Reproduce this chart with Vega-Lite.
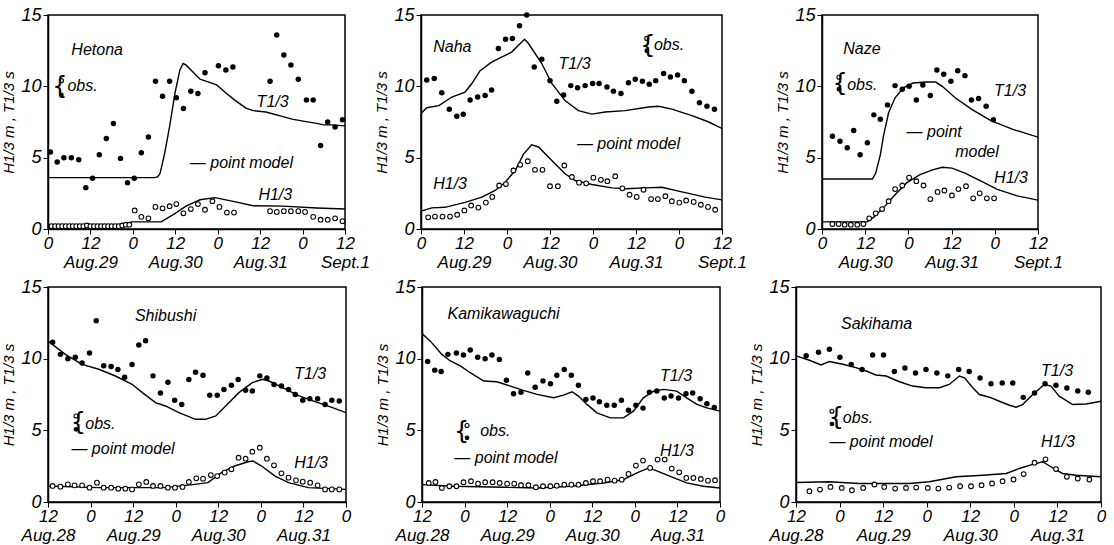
{
"$schema":"https://vega.github.io/schema/vega-lite/v6.json",
"autosize":{"type":"pad"},
"padding":{"left":1,"top":5,"right":2,"bottom":2},
"background":"white",
"config":{
 "view":{"stroke":"black","strokeWidth":1.5},
 "font":"Liberation Sans",
 "axis":{"grid":false,"domainColor":"black","domainWidth":1.5,"tickColor":"black","tickSize":5,"labelColor":"black","titleColor":"black","labelFont":"Liberation Sans","labelFontStyle":"italic","labelFontSize":18,"titleFont":"Liberation Sans","titleFontStyle":"italic","titleFontWeight":"normal","titleFontSize":15,"labelPadding":2,"titlePadding":4},
 "axisX":{"labelFlush":false,"labelOverlap":false,"labelLineHeight":19,"labelFontSize":17,"labelPadding":1},
 "text":{"font":"Liberation Sans","fontStyle":"italic","fontSize":16,"align":"left","baseline":"middle","color":"black"}
},
"datasets":{
"d":[
{"s":"Hetona","k":"To","x":24.7,"y":5.4},{"s":"Hetona","k":"To","x":26.6,"y":4.7},{"s":"Hetona","k":"To","x":28.5,"y":5.0},{"s":"Hetona","k":"To","x":30.6,"y":5.0},{"s":"Hetona","k":"To","x":32.7,"y":4.85},{"s":"Hetona","k":"To","x":34.7,"y":2.9},{"s":"Hetona","k":"To","x":36.6,"y":3.55},{"s":"Hetona","k":"To","x":38.5,"y":5.2},{"s":"Hetona","k":"To","x":40.5,"y":6.35},{"s":"Hetona","k":"To","x":42.5,"y":7.4},{"s":"Hetona","k":"To","x":44.5,"y":4.95},{"s":"Hetona","k":"To","x":46.5,"y":3.25},{"s":"Hetona","k":"To","x":48.4,"y":3.55},{"s":"Hetona","k":"To","x":50.4,"y":5.35},{"s":"Hetona","k":"To","x":52.4,"y":6.45},{"s":"Hetona","k":"To","x":54.4,"y":10.35},{"s":"Hetona","k":"To","x":56.4,"y":9.3},{"s":"Hetona","k":"To","x":58.4,"y":10.35},{"s":"Hetona","k":"To","x":60.3,"y":9.2},{"s":"Hetona","k":"To","x":62.3,"y":8.45},{"s":"Hetona","k":"To","x":64.4,"y":9.65},{"s":"Hetona","k":"To","x":66.4,"y":9.5},{"s":"Hetona","k":"To","x":68.4,"y":10.95},{"s":"Hetona","k":"To","x":72.2,"y":11.45},{"s":"Hetona","k":"To","x":74.3,"y":11.15},{"s":"Hetona","k":"To","x":76.3,"y":11.35},{"s":"Hetona","k":"To","x":86.8,"y":10.35},{"s":"Hetona","k":"To","x":88.7,"y":13.6},{"s":"Hetona","k":"To","x":90.7,"y":12.2},{"s":"Hetona","k":"To","x":92.7,"y":11.5},{"s":"Hetona","k":"To","x":94.8,"y":10.5},{"s":"Hetona","k":"To","x":97.1,"y":9.05},{"s":"Hetona","k":"To","x":99,"y":9.05},{"s":"Hetona","k":"To","x":101.1,"y":5.85},{"s":"Hetona","k":"To","x":103.1,"y":7.5},{"s":"Hetona","k":"To","x":105.2,"y":7.15},{"s":"Hetona","k":"To","x":107.3,"y":7.65},
{"s":"Hetona","k":"Ho","x":25,"y":0.2},{"s":"Hetona","k":"Ho","x":26,"y":0.2},{"s":"Hetona","k":"Ho","x":27,"y":0.2},{"s":"Hetona","k":"Ho","x":28,"y":0.2},{"s":"Hetona","k":"Ho","x":29,"y":0.2},{"s":"Hetona","k":"Ho","x":30,"y":0.2},{"s":"Hetona","k":"Ho","x":31,"y":0.2},{"s":"Hetona","k":"Ho","x":32,"y":0.2},{"s":"Hetona","k":"Ho","x":33,"y":0.2},{"s":"Hetona","k":"Ho","x":34,"y":0.2},{"s":"Hetona","k":"Ho","x":35,"y":0.25},{"s":"Hetona","k":"Ho","x":36,"y":0.2},{"s":"Hetona","k":"Ho","x":37,"y":0.2},{"s":"Hetona","k":"Ho","x":38,"y":0.2},{"s":"Hetona","k":"Ho","x":39,"y":0.2},{"s":"Hetona","k":"Ho","x":40,"y":0.2},{"s":"Hetona","k":"Ho","x":41,"y":0.2},{"s":"Hetona","k":"Ho","x":42,"y":0.2},{"s":"Hetona","k":"Ho","x":43,"y":0.2},{"s":"Hetona","k":"Ho","x":44,"y":0.2},{"s":"Hetona","k":"Ho","x":45,"y":0.25},{"s":"Hetona","k":"Ho","x":46,"y":0.3},{"s":"Hetona","k":"Ho","x":47,"y":0.3},
{"s":"Hetona","k":"Ho","x":48.5,"y":1.3},{"s":"Hetona","k":"Ho","x":50.4,"y":0.85},{"s":"Hetona","k":"Ho","x":52.4,"y":0.75},{"s":"Hetona","k":"Ho","x":54.4,"y":1.55},{"s":"Hetona","k":"Ho","x":56.4,"y":1.45},{"s":"Hetona","k":"Ho","x":58.4,"y":1.6},{"s":"Hetona","k":"Ho","x":60.3,"y":1.75},{"s":"Hetona","k":"Ho","x":62.3,"y":1.1},{"s":"Hetona","k":"Ho","x":64.4,"y":1.4},{"s":"Hetona","k":"Ho","x":66.4,"y":1.75},{"s":"Hetona","k":"Ho","x":68.4,"y":1.35},{"s":"Hetona","k":"Ho","x":70.5,"y":1.95},{"s":"Hetona","k":"Ho","x":72.5,"y":1.55},{"s":"Hetona","k":"Ho","x":74.6,"y":1.15},{"s":"Hetona","k":"Ho","x":76.6,"y":1.15},{"s":"Hetona","k":"Ho","x":86.8,"y":1.25},{"s":"Hetona","k":"Ho","x":88.7,"y":1.2},{"s":"Hetona","k":"Ho","x":90.7,"y":1.25},{"s":"Hetona","k":"Ho","x":92.7,"y":1.25},{"s":"Hetona","k":"Ho","x":94.8,"y":1.25},{"s":"Hetona","k":"Ho","x":96.7,"y":1.2},{"s":"Hetona","k":"Ho","x":99,"y":0.85},{"s":"Hetona","k":"Ho","x":101.1,"y":0.65},{"s":"Hetona","k":"Ho","x":103.1,"y":0.65},{"s":"Hetona","k":"Ho","x":105.2,"y":0.75},{"s":"Hetona","k":"Ho","x":107.3,"y":0.55},
{"s":"Hetona","k":"Tm","x":24,"y":3.6},{"s":"Hetona","k":"Tm","x":54,"y":3.6},{"s":"Hetona","k":"Tm","x":55,"y":3.65},{"s":"Hetona","k":"Tm","x":55.7,"y":3.9},{"s":"Hetona","k":"Tm","x":57,"y":5.3},{"s":"Hetona","k":"Tm","x":58.4,"y":7.2},{"s":"Hetona","k":"Tm","x":59.9,"y":9.5},{"s":"Hetona","k":"Tm","x":61.3,"y":11.15},{"s":"Hetona","k":"Tm","x":62.2,"y":11.6},{"s":"Hetona","k":"Tm","x":63,"y":11.5},{"s":"Hetona","k":"Tm","x":65,"y":11.0},{"s":"Hetona","k":"Tm","x":67,"y":10.5},{"s":"Hetona","k":"Tm","x":71.7,"y":10.1},{"s":"Hetona","k":"Tm","x":74,"y":9.6},{"s":"Hetona","k":"Tm","x":77,"y":9.0},{"s":"Hetona","k":"Tm","x":80,"y":8.47},{"s":"Hetona","k":"Tm","x":82,"y":8.3},{"s":"Hetona","k":"Tm","x":85.6,"y":8.2},{"s":"Hetona","k":"Tm","x":90.5,"y":7.88},{"s":"Hetona","k":"Tm","x":93,"y":7.7},{"s":"Hetona","k":"Tm","x":97,"y":7.53},{"s":"Hetona","k":"Tm","x":100,"y":7.4},{"s":"Hetona","k":"Tm","x":102,"y":7.3},{"s":"Hetona","k":"Tm","x":104,"y":7.3},{"s":"Hetona","k":"Tm","x":108,"y":7.23},
{"s":"Hetona","k":"Hm","x":24,"y":0.25},{"s":"Hetona","k":"Hm","x":47,"y":0.25},{"s":"Hetona","k":"Hm","x":47.5,"y":0.5},{"s":"Hetona","k":"Hm","x":56,"y":0.5},{"s":"Hetona","k":"Hm","x":60,"y":1.1},{"s":"Hetona","k":"Hm","x":63,"y":1.6},{"s":"Hetona","k":"Hm","x":67,"y":2.05},{"s":"Hetona","k":"Hm","x":71.2,"y":2.2},{"s":"Hetona","k":"Hm","x":76.4,"y":1.94},{"s":"Hetona","k":"Hm","x":82,"y":1.63},{"s":"Hetona","k":"Hm","x":90.5,"y":1.6},{"s":"Hetona","k":"Hm","x":100,"y":1.47},{"s":"Hetona","k":"Hm","x":108,"y":1.4},
{"s":"Naha","k":"To","x":25.6,"y":10.45},{"s":"Naha","k":"To","x":27.7,"y":10.55},{"s":"Naha","k":"To","x":29.8,"y":9.55},{"s":"Naha","k":"To","x":31.9,"y":8.4},{"s":"Naha","k":"To","x":34,"y":7.9},{"s":"Naha","k":"To","x":35.8,"y":8.05},{"s":"Naha","k":"To","x":37.7,"y":9.05},{"s":"Naha","k":"To","x":39.8,"y":9.25},{"s":"Naha","k":"To","x":41.9,"y":9.35},{"s":"Naha","k":"To","x":43.7,"y":9.75},{"s":"Naha","k":"To","x":45.6,"y":12.65},{"s":"Naha","k":"To","x":47.6,"y":13.3},{"s":"Naha","k":"To","x":49.5,"y":13.35},{"s":"Naha","k":"To","x":51.5,"y":14.25},{"s":"Naha","k":"To","x":53.5,"y":15.0},{"s":"Naha","k":"To","x":55.6,"y":11.35},{"s":"Naha","k":"To","x":57.7,"y":11.9},{"s":"Naha","k":"To","x":60,"y":10.4},{"s":"Naha","k":"To","x":61.9,"y":8.95},{"s":"Naha","k":"To","x":63.8,"y":9.4},{"s":"Naha","k":"To","x":65.8,"y":10.05},{"s":"Naha","k":"To","x":67.7,"y":9.9},{"s":"Naha","k":"To","x":69.8,"y":10.05},{"s":"Naha","k":"To","x":71.9,"y":10.2},{"s":"Naha","k":"To","x":73.7,"y":10.2},{"s":"Naha","k":"To","x":75.9,"y":9.95},{"s":"Naha","k":"To","x":77.7,"y":9.65},{"s":"Naha","k":"To","x":79.8,"y":9.5},{"s":"Naha","k":"To","x":81.9,"y":10.25},{"s":"Naha","k":"To","x":83.8,"y":10.5},{"s":"Naha","k":"To","x":85.8,"y":10.35},{"s":"Naha","k":"To","x":87.7,"y":10.15},{"s":"Naha","k":"To","x":89.5,"y":10.4},{"s":"Naha","k":"To","x":91.7,"y":10.9},{"s":"Naha","k":"To","x":93.6,"y":10.65},{"s":"Naha","k":"To","x":95.6,"y":10.8},{"s":"Naha","k":"To","x":97.5,"y":10.4},{"s":"Naha","k":"To","x":99.6,"y":9.65},{"s":"Naha","k":"To","x":101.7,"y":8.85},{"s":"Naha","k":"To","x":103.8,"y":8.6},{"s":"Naha","k":"To","x":105.9,"y":8.4},
{"s":"Naha","k":"Ho","x":26,"y":0.82},{"s":"Naha","k":"Ho","x":27.9,"y":0.87},{"s":"Naha","k":"Ho","x":30,"y":0.87},{"s":"Naha","k":"Ho","x":32.1,"y":0.87},{"s":"Naha","k":"Ho","x":34.1,"y":1.0},{"s":"Naha","k":"Ho","x":36.1,"y":1.3},{"s":"Naha","k":"Ho","x":38,"y":1.65},{"s":"Naha","k":"Ho","x":40,"y":1.5},{"s":"Naha","k":"Ho","x":42.1,"y":1.85},{"s":"Naha","k":"Ho","x":43.9,"y":2.25},{"s":"Naha","k":"Ho","x":45.8,"y":3.05},{"s":"Naha","k":"Ho","x":47.7,"y":3.15},{"s":"Naha","k":"Ho","x":49.8,"y":4.1},{"s":"Naha","k":"Ho","x":51.7,"y":4.5},{"s":"Naha","k":"Ho","x":53.8,"y":4.75},{"s":"Naha","k":"Ho","x":55.8,"y":4.15},{"s":"Naha","k":"Ho","x":57.9,"y":4.15},{"s":"Naha","k":"Ho","x":60,"y":3.0},{"s":"Naha","k":"Ho","x":62.2,"y":3.0},{"s":"Naha","k":"Ho","x":64,"y":4.45},{"s":"Naha","k":"Ho","x":66.1,"y":3.65},{"s":"Naha","k":"Ho","x":68.1,"y":3.25},{"s":"Naha","k":"Ho","x":70.1,"y":3.2},{"s":"Naha","k":"Ho","x":72.1,"y":3.6},{"s":"Naha","k":"Ho","x":74.2,"y":3.45},{"s":"Naha","k":"Ho","x":76,"y":3.35},{"s":"Naha","k":"Ho","x":78.2,"y":3.7},{"s":"Naha","k":"Ho","x":80.2,"y":2.85},{"s":"Naha","k":"Ho","x":82.2,"y":2.4},{"s":"Naha","k":"Ho","x":84.2,"y":2.25},{"s":"Naha","k":"Ho","x":86.1,"y":2.75},{"s":"Naha","k":"Ho","x":88.2,"y":2.1},{"s":"Naha","k":"Ho","x":90.1,"y":2.1},{"s":"Naha","k":"Ho","x":92.2,"y":2.3},{"s":"Naha","k":"Ho","x":94,"y":1.95},{"s":"Naha","k":"Ho","x":96.1,"y":1.85},{"s":"Naha","k":"Ho","x":98,"y":2.0},{"s":"Naha","k":"Ho","x":100.1,"y":1.9},{"s":"Naha","k":"Ho","x":102.1,"y":1.7},{"s":"Naha","k":"Ho","x":104.1,"y":1.55},{"s":"Naha","k":"Ho","x":106.1,"y":1.35},
{"s":"Naha","k":"Tm","x":24,"y":8.1},{"s":"Naha","k":"Tm","x":25.6,"y":8.5},{"s":"Naha","k":"Tm","x":29,"y":8.65},{"s":"Naha","k":"Tm","x":32.6,"y":9.25},{"s":"Naha","k":"Tm","x":36.3,"y":9.6},{"s":"Naha","k":"Tm","x":38.2,"y":10.2},{"s":"Naha","k":"Tm","x":40.5,"y":11.1},{"s":"Naha","k":"Tm","x":43.7,"y":11.7},{"s":"Naha","k":"Tm","x":46.5,"y":12.05},{"s":"Naha","k":"Tm","x":49.3,"y":12.4},{"s":"Naha","k":"Tm","x":51.7,"y":13.0},{"s":"Naha","k":"Tm","x":52.9,"y":13.3},{"s":"Naha","k":"Tm","x":54,"y":13.0},{"s":"Naha","k":"Tm","x":57.7,"y":11.6},{"s":"Naha","k":"Tm","x":60.5,"y":10.2},{"s":"Naha","k":"Tm","x":64.2,"y":9.0},{"s":"Naha","k":"Tm","x":67.9,"y":8.3},{"s":"Naha","k":"Tm","x":71.7,"y":8.05},{"s":"Naha","k":"Tm","x":75.4,"y":8.2},{"s":"Naha","k":"Tm","x":81,"y":8.3},{"s":"Naha","k":"Tm","x":87.5,"y":8.55},{"s":"Naha","k":"Tm","x":90.3,"y":8.6},{"s":"Naha","k":"Tm","x":94,"y":8.4},{"s":"Naha","k":"Tm","x":99.6,"y":7.95},{"s":"Naha","k":"Tm","x":104.3,"y":7.5},{"s":"Naha","k":"Tm","x":108,"y":7.05},
{"s":"Naha","k":"Hm","x":24,"y":1.25},{"s":"Naha","k":"Hm","x":27,"y":1.48},{"s":"Naha","k":"Hm","x":30.7,"y":1.52},{"s":"Naha","k":"Hm","x":36.3,"y":1.87},{"s":"Naha","k":"Hm","x":41,"y":2.23},{"s":"Naha","k":"Hm","x":44.7,"y":2.7},{"s":"Naha","k":"Hm","x":47.5,"y":3.28},{"s":"Naha","k":"Hm","x":50.3,"y":4.1},{"s":"Naha","k":"Hm","x":52.6,"y":5.25},{"s":"Naha","k":"Hm","x":54.9,"y":5.9},{"s":"Naha","k":"Hm","x":56.8,"y":5.75},{"s":"Naha","k":"Hm","x":60.5,"y":4.8},{"s":"Naha","k":"Hm","x":64.2,"y":3.87},{"s":"Naha","k":"Hm","x":67,"y":3.4},{"s":"Naha","k":"Hm","x":71.7,"y":3.12},{"s":"Naha","k":"Hm","x":77.3,"y":2.88},{"s":"Naha","k":"Hm","x":81,"y":2.82},{"s":"Naha","k":"Hm","x":86.6,"y":2.88},{"s":"Naha","k":"Hm","x":91.2,"y":2.93},{"s":"Naha","k":"Hm","x":96.8,"y":2.6},{"s":"Naha","k":"Hm","x":103.3,"y":2.23},{"s":"Naha","k":"Hm","x":108,"y":2.04},
{"s":"Naze","k":"To","x":50.9,"y":6.5},{"s":"Naze","k":"To","x":53,"y":6.15},{"s":"Naze","k":"To","x":55,"y":5.7},{"s":"Naze","k":"To","x":56.8,"y":6.9},{"s":"Naze","k":"To","x":58.6,"y":5.2},{"s":"Naze","k":"To","x":60.6,"y":6.05},{"s":"Naze","k":"To","x":62.4,"y":8.0},{"s":"Naze","k":"To","x":64.2,"y":7.7},{"s":"Naze","k":"To","x":66.2,"y":8.7},{"s":"Naze","k":"To","x":68.3,"y":10.05},{"s":"Naze","k":"To","x":70.3,"y":9.8},{"s":"Naze","k":"To","x":72.2,"y":10.0},{"s":"Naze","k":"To","x":74.2,"y":9.05},{"s":"Naze","k":"To","x":76,"y":10.1},{"s":"Naze","k":"To","x":78.1,"y":9.35},{"s":"Naze","k":"To","x":79.9,"y":11.15},{"s":"Naze","k":"To","x":81.8,"y":10.85},{"s":"Naze","k":"To","x":83.8,"y":10.35},{"s":"Naze","k":"To","x":85.7,"y":11.1},{"s":"Naze","k":"To","x":87.7,"y":10.75},{"s":"Naze","k":"To","x":89.5,"y":9.05},{"s":"Naze","k":"To","x":91.5,"y":9.15},{"s":"Naze","k":"To","x":93.6,"y":8.6},{"s":"Naze","k":"To","x":95.6,"y":7.65},
{"s":"Naze","k":"Ho","x":50.9,"y":0.35},{"s":"Naze","k":"Ho","x":52.6,"y":0.35},{"s":"Naze","k":"Ho","x":54.3,"y":0.3},{"s":"Naze","k":"Ho","x":56,"y":0.3},{"s":"Naze","k":"Ho","x":57.8,"y":0.3},{"s":"Naze","k":"Ho","x":59.5,"y":0.35},{"s":"Naze","k":"Ho","x":61.1,"y":0.75},{"s":"Naze","k":"Ho","x":62.9,"y":1.1},{"s":"Naze","k":"Ho","x":64.7,"y":1.4},{"s":"Naze","k":"Ho","x":66.5,"y":1.95},{"s":"Naze","k":"Ho","x":68.3,"y":2.8},{"s":"Naze","k":"Ho","x":70.3,"y":3.05},{"s":"Naze","k":"Ho","x":72.2,"y":3.6},{"s":"Naze","k":"Ho","x":74.2,"y":3.35},{"s":"Naze","k":"Ho","x":76.2,"y":3.05},{"s":"Naze","k":"Ho","x":78.1,"y":2.1},{"s":"Naze","k":"Ho","x":80.1,"y":2.6},{"s":"Naze","k":"Ho","x":82,"y":2.7},{"s":"Naze","k":"Ho","x":84.1,"y":2.35},{"s":"Naze","k":"Ho","x":85.9,"y":2.8},{"s":"Naze","k":"Ho","x":88,"y":3.0},{"s":"Naze","k":"Ho","x":90,"y":2.15},{"s":"Naze","k":"Ho","x":91.8,"y":2.5},{"s":"Naze","k":"Ho","x":93.8,"y":2.15},{"s":"Naze","k":"Ho","x":95.8,"y":2.15},
{"s":"Naze","k":"Tm","x":48,"y":3.5},{"s":"Naze","k":"Tm","x":62,"y":3.5},{"s":"Naze","k":"Tm","x":62.9,"y":3.9},{"s":"Naze","k":"Tm","x":64.2,"y":5.2},{"s":"Naze","k":"Tm","x":65.1,"y":6.55},{"s":"Naze","k":"Tm","x":66.5,"y":8.15},{"s":"Naze","k":"Tm","x":68.3,"y":9.2},{"s":"Naze","k":"Tm","x":70.6,"y":9.9},{"s":"Naze","k":"Tm","x":73.3,"y":10.23},{"s":"Naze","k":"Tm","x":76.9,"y":10.3},{"s":"Naze","k":"Tm","x":79.6,"y":10.3},{"s":"Naze","k":"Tm","x":81.4,"y":10.0},{"s":"Naze","k":"Tm","x":85,"y":9.2},{"s":"Naze","k":"Tm","x":89.5,"y":8.4},{"s":"Naze","k":"Tm","x":94.9,"y":7.6},{"s":"Naze","k":"Tm","x":101.2,"y":6.97},{"s":"Naze","k":"Tm","x":108,"y":6.44},
{"s":"Naze","k":"Hm","x":48,"y":0.5},{"s":"Naze","k":"Hm","x":60.6,"y":0.5},{"s":"Naze","k":"Hm","x":62.4,"y":0.83},{"s":"Naze","k":"Hm","x":65.1,"y":1.5},{"s":"Naze","k":"Hm","x":67.9,"y":2.3},{"s":"Naze","k":"Hm","x":71.5,"y":3.23},{"s":"Naze","k":"Hm","x":75.1,"y":3.8},{"s":"Naze","k":"Hm","x":78.7,"y":4.15},{"s":"Naze","k":"Hm","x":81.4,"y":4.33},{"s":"Naze","k":"Hm","x":84.1,"y":4.27},{"s":"Naze","k":"Hm","x":87.7,"y":3.92},{"s":"Naze","k":"Hm","x":92.2,"y":3.35},{"s":"Naze","k":"Hm","x":96.7,"y":2.78},{"s":"Naze","k":"Hm","x":102.2,"y":2.32},{"s":"Naze","k":"Hm","x":108,"y":2.02},
{"s":"Shibushi","k":"To","x":13.3,"y":11.15},{"s":"Shibushi","k":"To","x":15.5,"y":10.3},{"s":"Shibushi","k":"To","x":17.6,"y":10.0},{"s":"Shibushi","k":"To","x":19.7,"y":10.1},{"s":"Shibushi","k":"To","x":21.6,"y":9.7},{"s":"Shibushi","k":"To","x":23.7,"y":10.4},{"s":"Shibushi","k":"To","x":25.6,"y":12.65},{"s":"Shibushi","k":"To","x":27.7,"y":9.5},{"s":"Shibushi","k":"To","x":29.8,"y":9.45},{"s":"Shibushi","k":"To","x":31.7,"y":9.25},{"s":"Shibushi","k":"To","x":33.6,"y":8.7},{"s":"Shibushi","k":"To","x":35.7,"y":9.6},{"s":"Shibushi","k":"To","x":37.6,"y":10.95},{"s":"Shibushi","k":"To","x":39.5,"y":11.25},{"s":"Shibushi","k":"To","x":41.6,"y":8.8},{"s":"Shibushi","k":"To","x":43.7,"y":7.6},{"s":"Shibushi","k":"To","x":45.8,"y":8.35},{"s":"Shibushi","k":"To","x":47.7,"y":7.1},{"s":"Shibushi","k":"To","x":49.7,"y":6.8},{"s":"Shibushi","k":"To","x":51.7,"y":8.55},{"s":"Shibushi","k":"To","x":53.6,"y":9.05},{"s":"Shibushi","k":"To","x":55.7,"y":8.85},{"s":"Shibushi","k":"To","x":57.6,"y":7.45},{"s":"Shibushi","k":"To","x":59.7,"y":7.45},{"s":"Shibushi","k":"To","x":61.6,"y":7.85},{"s":"Shibushi","k":"To","x":63.7,"y":8.15},{"s":"Shibushi","k":"To","x":65.6,"y":8.55},{"s":"Shibushi","k":"To","x":67.7,"y":7.8},{"s":"Shibushi","k":"To","x":69.6,"y":7.75},{"s":"Shibushi","k":"To","x":71.7,"y":8.8},{"s":"Shibushi","k":"To","x":73.7,"y":8.65},{"s":"Shibushi","k":"To","x":75.7,"y":8.2},{"s":"Shibushi","k":"To","x":77.8,"y":8.1},{"s":"Shibushi","k":"To","x":79.8,"y":7.85},{"s":"Shibushi","k":"To","x":81.7,"y":7.5},{"s":"Shibushi","k":"To","x":83.8,"y":7.1},{"s":"Shibushi","k":"To","x":85.8,"y":7.2},{"s":"Shibushi","k":"To","x":88,"y":7.2},{"s":"Shibushi","k":"To","x":90.1,"y":6.8},{"s":"Shibushi","k":"To","x":92,"y":7.1},{"s":"Shibushi","k":"To","x":94.1,"y":7.05},
{"s":"Shibushi","k":"Ho","x":13.3,"y":1.12},{"s":"Shibushi","k":"Ho","x":15.5,"y":1.07},{"s":"Shibushi","k":"Ho","x":17.6,"y":1.23},{"s":"Shibushi","k":"Ho","x":19.5,"y":1.16},{"s":"Shibushi","k":"Ho","x":21.6,"y":1.16},{"s":"Shibushi","k":"Ho","x":23.7,"y":1.0},{"s":"Shibushi","k":"Ho","x":25.8,"y":1.35},{"s":"Shibushi","k":"Ho","x":27.7,"y":1.0},{"s":"Shibushi","k":"Ho","x":29.8,"y":1.0},{"s":"Shibushi","k":"Ho","x":31.8,"y":0.93},{"s":"Shibushi","k":"Ho","x":33.8,"y":0.93},{"s":"Shibushi","k":"Ho","x":35.7,"y":0.88},{"s":"Shibushi","k":"Ho","x":37.6,"y":1.23},{"s":"Shibushi","k":"Ho","x":39.7,"y":1.4},{"s":"Shibushi","k":"Ho","x":41.6,"y":1.12},{"s":"Shibushi","k":"Ho","x":43.7,"y":1.12},{"s":"Shibushi","k":"Ho","x":45.8,"y":1.0},{"s":"Shibushi","k":"Ho","x":47.8,"y":1.0},{"s":"Shibushi","k":"Ho","x":49.9,"y":1.05},{"s":"Shibushi","k":"Ho","x":51.7,"y":1.4},{"s":"Shibushi","k":"Ho","x":53.8,"y":1.65},{"s":"Shibushi","k":"Ho","x":55.7,"y":1.63},{"s":"Shibushi","k":"Ho","x":57.9,"y":1.88},{"s":"Shibushi","k":"Ho","x":59.7,"y":1.81},{"s":"Shibushi","k":"Ho","x":61.8,"y":2.05},{"s":"Shibushi","k":"Ho","x":63.7,"y":2.28},{"s":"Shibushi","k":"Ho","x":65.7,"y":3.09},{"s":"Shibushi","k":"Ho","x":67.7,"y":3.02},{"s":"Shibushi","k":"Ho","x":69.6,"y":3.51},{"s":"Shibushi","k":"Ho","x":71.7,"y":3.79},{"s":"Shibushi","k":"Ho","x":73.7,"y":3.02},{"s":"Shibushi","k":"Ho","x":75.7,"y":2.56},{"s":"Shibushi","k":"Ho","x":77.8,"y":2.0},{"s":"Shibushi","k":"Ho","x":79.8,"y":1.7},{"s":"Shibushi","k":"Ho","x":81.9,"y":1.51},{"s":"Shibushi","k":"Ho","x":83.8,"y":1.42},{"s":"Shibushi","k":"Ho","x":85.9,"y":1.35},{"s":"Shibushi","k":"Ho","x":88,"y":1.16},{"s":"Shibushi","k":"Ho","x":90.1,"y":0.88},{"s":"Shibushi","k":"Ho","x":92,"y":0.88},{"s":"Shibushi","k":"Ho","x":94.1,"y":0.88},
{"s":"Shibushi","k":"Tm","x":12,"y":11.23},{"s":"Shibushi","k":"Tm","x":16.9,"y":10.3},{"s":"Shibushi","k":"Tm","x":21.6,"y":9.6},{"s":"Shibushi","k":"Tm","x":26.3,"y":9.26},{"s":"Shibushi","k":"Tm","x":31,"y":8.79},{"s":"Shibushi","k":"Tm","x":35.7,"y":8.21},{"s":"Shibushi","k":"Tm","x":38.6,"y":7.63},{"s":"Shibushi","k":"Tm","x":42.3,"y":6.93},{"s":"Shibushi","k":"Tm","x":45.1,"y":6.7},{"s":"Shibushi","k":"Tm","x":48.9,"y":6.23},{"s":"Shibushi","k":"Tm","x":53.6,"y":5.77},{"s":"Shibushi","k":"Tm","x":56.4,"y":5.77},{"s":"Shibushi","k":"Tm","x":59.3,"y":6.0},{"s":"Shibushi","k":"Tm","x":63,"y":6.93},{"s":"Shibushi","k":"Tm","x":65.8,"y":7.63},{"s":"Shibushi","k":"Tm","x":69.6,"y":8.33},{"s":"Shibushi","k":"Tm","x":72.5,"y":8.56},{"s":"Shibushi","k":"Tm","x":74.3,"y":8.44},{"s":"Shibushi","k":"Tm","x":78.1,"y":7.98},{"s":"Shibushi","k":"Tm","x":82.8,"y":7.4},{"s":"Shibushi","k":"Tm","x":87.5,"y":6.98},{"s":"Shibushi","k":"Tm","x":92.2,"y":6.58},{"s":"Shibushi","k":"Tm","x":96,"y":6.23},
{"s":"Shibushi","k":"Hm","x":12,"y":1.12},{"s":"Shibushi","k":"Hm","x":26.3,"y":1.0},{"s":"Shibushi","k":"Hm","x":35.7,"y":1.0},{"s":"Shibushi","k":"Hm","x":45.1,"y":1.0},{"s":"Shibushi","k":"Hm","x":53.4,"y":1.23},{"s":"Shibushi","k":"Hm","x":57.1,"y":1.35},{"s":"Shibushi","k":"Hm","x":60.9,"y":2.05},{"s":"Shibushi","k":"Hm","x":64.6,"y":2.51},{"s":"Shibushi","k":"Hm","x":68.4,"y":2.81},{"s":"Shibushi","k":"Hm","x":69.8,"y":2.86},{"s":"Shibushi","k":"Hm","x":72.2,"y":2.51},{"s":"Shibushi","k":"Hm","x":76,"y":1.81},{"s":"Shibushi","k":"Hm","x":79.8,"y":1.35},{"s":"Shibushi","k":"Hm","x":85.4,"y":1.0},{"s":"Shibushi","k":"Hm","x":96,"y":0.88},
{"s":"Kamikawaguchi","k":"To","x":13.6,"y":9.8},{"s":"Kamikawaguchi","k":"To","x":15.6,"y":9.2},{"s":"Kamikawaguchi","k":"To","x":17.4,"y":9.1},{"s":"Kamikawaguchi","k":"To","x":19.3,"y":10.3},{"s":"Kamikawaguchi","k":"To","x":21.7,"y":10.4},{"s":"Kamikawaguchi","k":"To","x":23.7,"y":10.25},{"s":"Kamikawaguchi","k":"To","x":25.6,"y":10.6},{"s":"Kamikawaguchi","k":"To","x":27.7,"y":10.1},{"s":"Kamikawaguchi","k":"To","x":29.8,"y":10.0},{"s":"Kamikawaguchi","k":"To","x":31.7,"y":10.25},{"s":"Kamikawaguchi","k":"To","x":33.8,"y":9.95},{"s":"Kamikawaguchi","k":"To","x":35.8,"y":8.5},{"s":"Kamikawaguchi","k":"To","x":37.8,"y":7.55},{"s":"Kamikawaguchi","k":"To","x":39.9,"y":7.65},{"s":"Kamikawaguchi","k":"To","x":41.8,"y":9.0},{"s":"Kamikawaguchi","k":"To","x":43.9,"y":8.0},{"s":"Kamikawaguchi","k":"To","x":46.1,"y":8.45},{"s":"Kamikawaguchi","k":"To","x":48.2,"y":8.25},{"s":"Kamikawaguchi","k":"To","x":50,"y":8.85},{"s":"Kamikawaguchi","k":"To","x":52.1,"y":9.25},{"s":"Kamikawaguchi","k":"To","x":54.1,"y":8.85},{"s":"Kamikawaguchi","k":"To","x":56.1,"y":8.15},{"s":"Kamikawaguchi","k":"To","x":58.2,"y":7.15},{"s":"Kamikawaguchi","k":"To","x":60.2,"y":7.25},{"s":"Kamikawaguchi","k":"To","x":62,"y":7.0},{"s":"Kamikawaguchi","k":"To","x":64.1,"y":6.75},{"s":"Kamikawaguchi","k":"To","x":66.2,"y":6.75},{"s":"Kamikawaguchi","k":"To","x":68.2,"y":7.1},{"s":"Kamikawaguchi","k":"To","x":70.2,"y":6.4},{"s":"Kamikawaguchi","k":"To","x":72.3,"y":6.75},{"s":"Kamikawaguchi","k":"To","x":74.3,"y":6.55},{"s":"Kamikawaguchi","k":"To","x":76.1,"y":7.65},{"s":"Kamikawaguchi","k":"To","x":78.2,"y":7.75},{"s":"Kamikawaguchi","k":"To","x":80.3,"y":7.25},{"s":"Kamikawaguchi","k":"To","x":82.2,"y":7.4},{"s":"Kamikawaguchi","k":"To","x":84.3,"y":7.25},{"s":"Kamikawaguchi","k":"To","x":86.4,"y":7.55},{"s":"Kamikawaguchi","k":"To","x":88.3,"y":7.6},{"s":"Kamikawaguchi","k":"To","x":90.4,"y":7.2},{"s":"Kamikawaguchi","k":"To","x":92.3,"y":6.85},{"s":"Kamikawaguchi","k":"To","x":94.4,"y":6.6},
{"s":"Kamikawaguchi","k":"Ho","x":13.9,"y":1.33},{"s":"Kamikawaguchi","k":"Ho","x":15.8,"y":1.4},{"s":"Kamikawaguchi","k":"Ho","x":17.6,"y":0.98},{"s":"Kamikawaguchi","k":"Ho","x":19.7,"y":1.1},{"s":"Kamikawaguchi","k":"Ho","x":21.7,"y":1.1},{"s":"Kamikawaguchi","k":"Ho","x":23.7,"y":1.38},{"s":"Kamikawaguchi","k":"Ho","x":25.8,"y":1.45},{"s":"Kamikawaguchi","k":"Ho","x":27.8,"y":1.28},{"s":"Kamikawaguchi","k":"Ho","x":29.8,"y":1.38},{"s":"Kamikawaguchi","k":"Ho","x":31.9,"y":1.38},{"s":"Kamikawaguchi","k":"Ho","x":33.9,"y":1.33},{"s":"Kamikawaguchi","k":"Ho","x":36,"y":1.28},{"s":"Kamikawaguchi","k":"Ho","x":38,"y":1.28},{"s":"Kamikawaguchi","k":"Ho","x":39.9,"y":1.17},{"s":"Kamikawaguchi","k":"Ho","x":42,"y":1.17},{"s":"Kamikawaguchi","k":"Ho","x":44.1,"y":1.03},{"s":"Kamikawaguchi","k":"Ho","x":46.1,"y":1.1},{"s":"Kamikawaguchi","k":"Ho","x":48.2,"y":1.1},{"s":"Kamikawaguchi","k":"Ho","x":50,"y":1.14},{"s":"Kamikawaguchi","k":"Ho","x":52.1,"y":1.21},{"s":"Kamikawaguchi","k":"Ho","x":54.1,"y":1.21},{"s":"Kamikawaguchi","k":"Ho","x":56.1,"y":1.21},{"s":"Kamikawaguchi","k":"Ho","x":58.2,"y":1.33},{"s":"Kamikawaguchi","k":"Ho","x":60.2,"y":1.45},{"s":"Kamikawaguchi","k":"Ho","x":62.2,"y":1.45},{"s":"Kamikawaguchi","k":"Ho","x":64.3,"y":1.56},{"s":"Kamikawaguchi","k":"Ho","x":66.3,"y":1.49},{"s":"Kamikawaguchi","k":"Ho","x":68.3,"y":1.56},{"s":"Kamikawaguchi","k":"Ho","x":70.2,"y":1.96},{"s":"Kamikawaguchi","k":"Ho","x":72.3,"y":2.54},{"s":"Kamikawaguchi","k":"Ho","x":74.3,"y":2.89},{"s":"Kamikawaguchi","k":"Ho","x":76.3,"y":2.38},{"s":"Kamikawaguchi","k":"Ho","x":78.4,"y":2.96},{"s":"Kamikawaguchi","k":"Ho","x":80.4,"y":2.96},{"s":"Kamikawaguchi","k":"Ho","x":82.4,"y":2.33},{"s":"Kamikawaguchi","k":"Ho","x":84.5,"y":2.07},{"s":"Kamikawaguchi","k":"Ho","x":86.5,"y":1.68},{"s":"Kamikawaguchi","k":"Ho","x":88.5,"y":1.68},{"s":"Kamikawaguchi","k":"Ho","x":90.6,"y":1.61},{"s":"Kamikawaguchi","k":"Ho","x":92.6,"y":1.49},{"s":"Kamikawaguchi","k":"Ho","x":94.6,"y":1.52},
{"s":"Kamikawaguchi","k":"Tm","x":12,"y":11.75},{"s":"Kamikawaguchi","k":"Tm","x":14.3,"y":11.24},{"s":"Kamikawaguchi","k":"Tm","x":17.6,"y":10.3},{"s":"Kamikawaguchi","k":"Tm","x":20,"y":9.84},{"s":"Kamikawaguchi","k":"Tm","x":22.8,"y":9.49},{"s":"Kamikawaguchi","k":"Tm","x":25.6,"y":9.02},{"s":"Kamikawaguchi","k":"Tm","x":29.4,"y":8.44},{"s":"Kamikawaguchi","k":"Tm","x":33.1,"y":8.39},{"s":"Kamikawaguchi","k":"Tm","x":36.9,"y":8.09},{"s":"Kamikawaguchi","k":"Tm","x":40.6,"y":7.79},{"s":"Kamikawaguchi","k":"Tm","x":44.4,"y":7.51},{"s":"Kamikawaguchi","k":"Tm","x":49.1,"y":7.27},{"s":"Kamikawaguchi","k":"Tm","x":51.9,"y":7.46},{"s":"Kamikawaguchi","k":"Tm","x":54.3,"y":7.69},{"s":"Kamikawaguchi","k":"Tm","x":56.1,"y":7.39},{"s":"Kamikawaguchi","k":"Tm","x":58.5,"y":6.81},{"s":"Kamikawaguchi","k":"Tm","x":61.3,"y":6.22},{"s":"Kamikawaguchi","k":"Tm","x":65.1,"y":5.87},{"s":"Kamikawaguchi","k":"Tm","x":68.8,"y":5.87},{"s":"Kamikawaguchi","k":"Tm","x":71.6,"y":6.34},{"s":"Kamikawaguchi","k":"Tm","x":74.4,"y":7.27},{"s":"Kamikawaguchi","k":"Tm","x":77.3,"y":7.74},{"s":"Kamikawaguchi","k":"Tm","x":80.1,"y":7.86},{"s":"Kamikawaguchi","k":"Tm","x":83.8,"y":7.74},{"s":"Kamikawaguchi","k":"Tm","x":86.6,"y":7.27},{"s":"Kamikawaguchi","k":"Tm","x":89.5,"y":6.81},{"s":"Kamikawaguchi","k":"Tm","x":92.3,"y":6.57},{"s":"Kamikawaguchi","k":"Tm","x":96,"y":6.34},
{"s":"Kamikawaguchi","k":"Hm","x":12,"y":1.21},{"s":"Kamikawaguchi","k":"Hm","x":20.9,"y":1.1},{"s":"Kamikawaguchi","k":"Hm","x":35,"y":1.03},{"s":"Kamikawaguchi","k":"Hm","x":44.4,"y":0.98},{"s":"Kamikawaguchi","k":"Hm","x":53.8,"y":1.1},{"s":"Kamikawaguchi","k":"Hm","x":63.2,"y":1.33},{"s":"Kamikawaguchi","k":"Hm","x":68.8,"y":1.56},{"s":"Kamikawaguchi","k":"Hm","x":72.6,"y":2.03},{"s":"Kamikawaguchi","k":"Hm","x":75.9,"y":2.38},{"s":"Kamikawaguchi","k":"Hm","x":77.3,"y":2.26},{"s":"Kamikawaguchi","k":"Hm","x":82,"y":1.79},{"s":"Kamikawaguchi","k":"Hm","x":86.6,"y":1.33},{"s":"Kamikawaguchi","k":"Hm","x":91.3,"y":1.1},{"s":"Kamikawaguchi","k":"Hm","x":96,"y":0.98},
{"s":"Sakihama","k":"To","x":14.8,"y":10.2},{"s":"Sakihama","k":"To","x":18.2,"y":10.45},{"s":"Sakihama","k":"To","x":21.2,"y":10.65},{"s":"Sakihama","k":"To","x":24.1,"y":10.1},{"s":"Sakihama","k":"To","x":27.2,"y":9.6},{"s":"Sakihama","k":"To","x":30.2,"y":9.25},{"s":"Sakihama","k":"To","x":33.1,"y":10.25},{"s":"Sakihama","k":"To","x":36.1,"y":10.25},{"s":"Sakihama","k":"To","x":39.1,"y":9.1},{"s":"Sakihama","k":"To","x":42,"y":9.35},{"s":"Sakihama","k":"To","x":44.9,"y":9.0},{"s":"Sakihama","k":"To","x":47.8,"y":9.25},{"s":"Sakihama","k":"To","x":50.8,"y":9.0},{"s":"Sakihama","k":"To","x":53.8,"y":8.8},{"s":"Sakihama","k":"To","x":56.8,"y":9.25},{"s":"Sakihama","k":"To","x":59.7,"y":9.1},{"s":"Sakihama","k":"To","x":62.7,"y":8.65},{"s":"Sakihama","k":"To","x":65.7,"y":8.25},{"s":"Sakihama","k":"To","x":68.8,"y":8.3},{"s":"Sakihama","k":"To","x":71.7,"y":8.3},{"s":"Sakihama","k":"To","x":74.6,"y":7.3},{"s":"Sakihama","k":"To","x":77.7,"y":7.6},{"s":"Sakihama","k":"To","x":80.6,"y":8.25},{"s":"Sakihama","k":"To","x":83.6,"y":8.15},{"s":"Sakihama","k":"To","x":86.6,"y":7.95},{"s":"Sakihama","k":"To","x":89.6,"y":7.75},{"s":"Sakihama","k":"To","x":92.5,"y":7.65},
{"s":"Sakihama","k":"Ho","x":15.7,"y":0.75},{"s":"Sakihama","k":"Ho","x":18.6,"y":0.87},{"s":"Sakihama","k":"Ho","x":21.5,"y":1.05},{"s":"Sakihama","k":"Ho","x":24.6,"y":0.98},{"s":"Sakihama","k":"Ho","x":27.4,"y":0.82},{"s":"Sakihama","k":"Ho","x":30.5,"y":0.98},{"s":"Sakihama","k":"Ho","x":33.6,"y":1.22},{"s":"Sakihama","k":"Ho","x":36.3,"y":1.05},{"s":"Sakihama","k":"Ho","x":39.3,"y":0.94},{"s":"Sakihama","k":"Ho","x":42.3,"y":0.98},{"s":"Sakihama","k":"Ho","x":45.1,"y":1.01},{"s":"Sakihama","k":"Ho","x":48.3,"y":0.98},{"s":"Sakihama","k":"Ho","x":51.2,"y":0.94},{"s":"Sakihama","k":"Ho","x":54.2,"y":1.01},{"s":"Sakihama","k":"Ho","x":57.2,"y":1.1},{"s":"Sakihama","k":"Ho","x":60.2,"y":1.1},{"s":"Sakihama","k":"Ho","x":63.1,"y":1.17},{"s":"Sakihama","k":"Ho","x":66,"y":1.29},{"s":"Sakihama","k":"Ho","x":68.9,"y":1.45},{"s":"Sakihama","k":"Ho","x":71.9,"y":1.57},{"s":"Sakihama","k":"Ho","x":74.7,"y":1.95},{"s":"Sakihama","k":"Ho","x":77.7,"y":2.74},{"s":"Sakihama","k":"Ho","x":80.7,"y":2.98},{"s":"Sakihama","k":"Ho","x":83.6,"y":2.3},{"s":"Sakihama","k":"Ho","x":86.6,"y":1.76},{"s":"Sakihama","k":"Ho","x":89.6,"y":1.64},{"s":"Sakihama","k":"Ho","x":92.8,"y":1.57},
{"s":"Sakihama","k":"Tm","x":12,"y":10.2},{"s":"Sakihama","k":"Tm","x":15.7,"y":9.89},{"s":"Sakihama","k":"Tm","x":18.9,"y":9.56},{"s":"Sakihama","k":"Tm","x":21.2,"y":9.8},{"s":"Sakihama","k":"Tm","x":24.9,"y":9.61},{"s":"Sakihama","k":"Tm","x":28.5,"y":9.37},{"s":"Sakihama","k":"Tm","x":31.3,"y":9.14},{"s":"Sakihama","k":"Tm","x":34,"y":8.86},{"s":"Sakihama","k":"Tm","x":36.8,"y":8.79},{"s":"Sakihama","k":"Tm","x":40.5,"y":8.39},{"s":"Sakihama","k":"Tm","x":44.1,"y":8.09},{"s":"Sakihama","k":"Tm","x":47.8,"y":7.97},{"s":"Sakihama","k":"Tm","x":51.5,"y":7.97},{"s":"Sakihama","k":"Tm","x":54.2,"y":8.2},{"s":"Sakihama","k":"Tm","x":57,"y":8.79},{"s":"Sakihama","k":"Tm","x":58.4,"y":8.67},{"s":"Sakihama","k":"Tm","x":60.7,"y":7.97},{"s":"Sakihama","k":"Tm","x":62.5,"y":7.5},{"s":"Sakihama","k":"Tm","x":65.3,"y":7.31},{"s":"Sakihama","k":"Tm","x":68,"y":7.03},{"s":"Sakihama","k":"Tm","x":70.8,"y":6.75},{"s":"Sakihama","k":"Tm","x":72.6,"y":6.61},{"s":"Sakihama","k":"Tm","x":74.4,"y":6.8},{"s":"Sakihama","k":"Tm","x":77.2,"y":7.5},{"s":"Sakihama","k":"Tm","x":80.4,"y":8.2},{"s":"Sakihama","k":"Tm","x":82.2,"y":8.09},{"s":"Sakihama","k":"Tm","x":84.5,"y":7.38},{"s":"Sakihama","k":"Tm","x":88.2,"y":6.8},{"s":"Sakihama","k":"Tm","x":91.9,"y":6.84},{"s":"Sakihama","k":"Tm","x":96,"y":7.03},
{"s":"Sakihama","k":"Hm","x":12,"y":1.36},{"s":"Sakihama","k":"Hm","x":21.2,"y":1.41},{"s":"Sakihama","k":"Hm","x":29.4,"y":1.29},{"s":"Sakihama","k":"Hm","x":43.2,"y":1.29},{"s":"Sakihama","k":"Hm","x":48.7,"y":1.41},{"s":"Sakihama","k":"Hm","x":56.1,"y":1.76},{"s":"Sakihama","k":"Hm","x":63.4,"y":1.87},{"s":"Sakihama","k":"Hm","x":69.9,"y":1.99},{"s":"Sakihama","k":"Hm","x":73.5,"y":2.34},{"s":"Sakihama","k":"Hm","x":77.2,"y":2.62},{"s":"Sakihama","k":"Hm","x":79.9,"y":2.81},{"s":"Sakihama","k":"Hm","x":82.2,"y":2.46},{"s":"Sakihama","k":"Hm","x":85.4,"y":1.99},{"s":"Sakihama","k":"Hm","x":89.1,"y":1.87},{"s":"Sakihama","k":"Hm","x":96,"y":1.76}
],
"ann":[
{"s":"Hetona","t":"Hetona","x":30.6,"y":12.55},{"s":"Hetona","t":"obs.","x":29.5,"y":10.0},{"s":"Hetona","t":"T1/3","x":83,"y":8.93},{"s":"Hetona","t":"— point model","x":64.1,"y":4.62},{"s":"Hetona","t":"H1/3","x":83.5,"y":2.4},
{"s":"Naha","t":"Naha","x":27.4,"y":12.77},{"s":"Naha","t":"obs.","x":89,"y":12.9},{"s":"Naha","t":"T1/3","x":62.4,"y":11.6},{"s":"Naha","t":"— point model","x":67.5,"y":5.98},{"s":"Naha","t":"H1/3","x":27.4,"y":3.16},
{"s":"Naze","t":"Naze","x":53.9,"y":12.64},{"s":"Naze","t":"obs.","x":55,"y":10.1},{"s":"Naze","t":"T1/3","x":95.8,"y":9.65},{"s":"Naze","t":"— point","x":71.5,"y":6.8},{"s":"Naze","t":"model","x":85,"y":5.4},{"s":"Naze","t":"H1/3","x":95.8,"y":3.58},
{"s":"Shibushi","t":"Shibushi","x":36.5,"y":13.0},{"s":"Shibushi","t":"obs.","x":22.5,"y":5.42},{"s":"Shibushi","t":"— point model","x":18.6,"y":3.72},{"s":"Shibushi","t":"T1/3","x":81.4,"y":8.9},{"s":"Shibushi","t":"H1/3","x":81.4,"y":2.74},
{"s":"Kamikawaguchi","t":"Kamikawaguchi","x":19.2,"y":13.15},{"s":"Kamikawaguchi","t":"obs.","x":28.4,"y":4.94},{"s":"Kamikawaguchi","t":"— point model","x":21.1,"y":3.08},{"s":"Kamikawaguchi","t":"T1/3","x":79.1,"y":8.79},{"s":"Kamikawaguchi","t":"H1/3","x":79.1,"y":3.54},
{"s":"Sakihama","t":"Sakihama","x":24.4,"y":12.42},{"s":"Sakihama","t":"obs.","x":24.9,"y":5.86},{"s":"Sakihama","t":"— point model","x":21.2,"y":4.22},{"s":"Sakihama","t":"T1/3","x":79.5,"y":9.14},{"s":"Sakihama","t":"H1/3","x":79.5,"y":4.22}
],
"brace":[
{"s":"Hetona","x":25.2,"y":9.95},{"s":"Naha","x":85.2,"y":12.85},{"s":"Naze","x":50.9,"y":10.15},{"s":"Shibushi","x":18.4,"y":5.5},{"s":"Kamikawaguchi","x":21.0,"y":4.9},{"s":"Sakihama","x":21.0,"y":5.85}
],
"leg":[
{"s":"Hetona","k":"Ho","x":27.8,"y":10.4},{"s":"Hetona","k":"To","x":27.8,"y":9.4},
{"s":"Naha","k":"Ho","x":87.0,"y":13.36},{"s":"Naha","k":"To","x":87.0,"y":12.5},
{"s":"Naze","k":"Ho","x":52.7,"y":10.64},{"s":"Naze","k":"To","x":52.7,"y":9.8},
{"s":"Shibushi","k":"Ho","x":19.9,"y":6.0},{"s":"Shibushi","k":"To","x":19.9,"y":5.07},
{"s":"Kamikawaguchi","k":"Ho","x":24.7,"y":5.34},{"s":"Kamikawaguchi","k":"To","x":24.7,"y":4.48},
{"s":"Sakihama","k":"Ho","x":21.9,"y":6.33},{"s":"Sakihama","k":"To","x":21.9,"y":5.44}
]
},
"vconcat":[
{"hconcat":[
 {"hconcat":[
  {"width":297,"height":214,
   "encoding":{"x":{"field":"x","type":"quantitative","scale":{"domain":[24,108],"nice":false,"zero":false},"axis":{"title":null,"values":[24,36,48,60,72,84,96,108],"labelExpr":"datum.value % 24 == 12 ? ['12', floor(datum.value/24) < 4 ? 'Aug.' + (28 + floor(datum.value/24)) : 'Sept.' + (floor(datum.value/24) - 3)] : ['0', '']"}},
               "y":{"field":"y","type":"quantitative","scale":{"domain":[0,15],"nice":false},"axis":{"values":[0,5,10,15],"title":"H1/3 m , T1/3 s"}}},
   "layer":[
    {"data":{"name":"d"},"transform":[{"filter":"datum.s=='Hetona' && (datum.k=='Tm' || datum.k=='Hm')"}],"mark":{"type":"line","color":"black","strokeWidth":1.4,"clip":true},"encoding":{"detail":{"field":"k"}}},
    {"data":{"name":"d"},"transform":[{"filter":"datum.s=='Hetona' && datum.k=='To'"}],"mark":{"type":"point","filled":true,"color":"black","size":30,"opacity":1}},
    {"data":{"name":"d"},"transform":[{"filter":"datum.s=='Hetona' && datum.k=='Ho'"}],"mark":{"type":"point","filled":false,"color":"black","fill":"white","size":22,"strokeWidth":1.1,"opacity":1}},
    {"data":{"name":"leg"},"transform":[{"filter":"datum.s=='Hetona' && datum.k=='To'"}],"mark":{"type":"point","filled":true,"color":"black","size":22,"opacity":1}},
    {"data":{"name":"leg"},"transform":[{"filter":"datum.s=='Hetona' && datum.k=='Ho'"}],"mark":{"type":"point","filled":false,"color":"black","size":16,"strokeWidth":1.1,"opacity":1}},
    {"data":{"name":"brace"},"transform":[{"filter":"datum.s=='Hetona'"}],"mark":{"type":"text","fontSize":24,"fontStyle":"normal","font":"DejaVu Sans"},"encoding":{"text":{"value":"{"}}},
    {"data":{"name":"ann"},"transform":[{"filter":"datum.s=='Hetona'"}],"mark":{"type":"text"},"encoding":{"text":{"field":"t"}}}
   ]},
  {"width":301,"height":214,
   "encoding":{"x":{"field":"x","type":"quantitative","scale":{"domain":[24,108],"nice":false,"zero":false},"axis":{"title":null,"values":[24,36,48,60,72,84,96,108],"labelExpr":"datum.value % 24 == 12 ? ['12', floor(datum.value/24) < 4 ? 'Aug.' + (28 + floor(datum.value/24)) : 'Sept.' + (floor(datum.value/24) - 3)] : ['0', '']"}},
               "y":{"field":"y","type":"quantitative","scale":{"domain":[0,15],"nice":false},"axis":{"values":[0,5,10,15],"title":"H1/3 m , T1/3 s"}}},
   "layer":[
    {"data":{"name":"d"},"transform":[{"filter":"datum.s=='Naha' && (datum.k=='Tm' || datum.k=='Hm')"}],"mark":{"type":"line","color":"black","strokeWidth":1.4,"clip":true},"encoding":{"detail":{"field":"k"}}},
    {"data":{"name":"d"},"transform":[{"filter":"datum.s=='Naha' && datum.k=='To'"}],"mark":{"type":"point","filled":true,"color":"black","size":30,"opacity":1}},
    {"data":{"name":"d"},"transform":[{"filter":"datum.s=='Naha' && datum.k=='Ho'"}],"mark":{"type":"point","filled":false,"color":"black","fill":"white","size":22,"strokeWidth":1.1,"opacity":1}},
    {"data":{"name":"leg"},"transform":[{"filter":"datum.s=='Naha' && datum.k=='To'"}],"mark":{"type":"point","filled":true,"color":"black","size":22,"opacity":1}},
    {"data":{"name":"leg"},"transform":[{"filter":"datum.s=='Naha' && datum.k=='Ho'"}],"mark":{"type":"point","filled":false,"color":"black","size":16,"strokeWidth":1.1,"opacity":1}},
    {"data":{"name":"brace"},"transform":[{"filter":"datum.s=='Naha'"}],"mark":{"type":"text","fontSize":24,"fontStyle":"normal","font":"DejaVu Sans"},"encoding":{"text":{"value":"{"}}},
    {"data":{"name":"ann"},"transform":[{"filter":"datum.s=='Naha'"}],"mark":{"type":"text"},"encoding":{"text":{"field":"t"}}}
   ]}
 ],"spacing":3},
 {"width":216,"height":214,
  "encoding":{"x":{"field":"x","type":"quantitative","scale":{"domain":[48,108],"nice":false,"zero":false},"axis":{"title":null,"values":[48,60,72,84,96,108],"labelExpr":"datum.value % 24 == 12 ? ['12', floor(datum.value/24) < 4 ? 'Aug.' + (28 + floor(datum.value/24)) : 'Sept.' + (floor(datum.value/24) - 3)] : ['0', '']"}},
              "y":{"field":"y","type":"quantitative","scale":{"domain":[0,15],"nice":false},"axis":{"values":[0,5,10,15],"title":"H1/3 m , T1/3 s"}}},
  "layer":[
   {"data":{"name":"d"},"transform":[{"filter":"datum.s=='Naze' && (datum.k=='Tm' || datum.k=='Hm')"}],"mark":{"type":"line","color":"black","strokeWidth":1.4,"clip":true},"encoding":{"detail":{"field":"k"}}},
   {"data":{"name":"d"},"transform":[{"filter":"datum.s=='Naze' && datum.k=='To'"}],"mark":{"type":"point","filled":true,"color":"black","size":30,"opacity":1}},
   {"data":{"name":"d"},"transform":[{"filter":"datum.s=='Naze' && datum.k=='Ho'"}],"mark":{"type":"point","filled":false,"color":"black","fill":"white","size":22,"strokeWidth":1.1,"opacity":1}},
   {"data":{"name":"leg"},"transform":[{"filter":"datum.s=='Naze' && datum.k=='To'"}],"mark":{"type":"point","filled":true,"color":"black","size":22,"opacity":1}},
   {"data":{"name":"leg"},"transform":[{"filter":"datum.s=='Naze' && datum.k=='Ho'"}],"mark":{"type":"point","filled":false,"color":"black","size":16,"strokeWidth":1.1,"opacity":1}},
   {"data":{"name":"brace"},"transform":[{"filter":"datum.s=='Naze'"}],"mark":{"type":"text","fontSize":24,"fontStyle":"normal","font":"DejaVu Sans"},"encoding":{"text":{"value":"{"}}},
   {"data":{"name":"ann"},"transform":[{"filter":"datum.s=='Naze'"}],"mark":{"type":"text"},"encoding":{"text":{"field":"t"}}}
  ]}
],"spacing":27},
{"hconcat":[
 {"width":298,"height":215,
  "encoding":{"x":{"field":"x","type":"quantitative","scale":{"domain":[12,96],"nice":false,"zero":false},"axis":{"title":null,"values":[12,24,36,48,60,72,84,96],"labelExpr":"datum.value % 24 == 12 ? ['12', floor(datum.value/24) < 4 ? 'Aug.' + (28 + floor(datum.value/24)) : 'Sept.' + (floor(datum.value/24) - 3)] : ['0', '']"}},
              "y":{"field":"y","type":"quantitative","scale":{"domain":[0,15],"nice":false},"axis":{"values":[0,5,10,15],"title":"H1/3 m , T1/3 s"}}},
  "layer":[
   {"data":{"name":"d"},"transform":[{"filter":"datum.s=='Shibushi' && (datum.k=='Tm' || datum.k=='Hm')"}],"mark":{"type":"line","color":"black","strokeWidth":1.4,"clip":true},"encoding":{"detail":{"field":"k"}}},
   {"data":{"name":"d"},"transform":[{"filter":"datum.s=='Shibushi' && datum.k=='To'"}],"mark":{"type":"point","filled":true,"color":"black","size":30,"opacity":1}},
   {"data":{"name":"d"},"transform":[{"filter":"datum.s=='Shibushi' && datum.k=='Ho'"}],"mark":{"type":"point","filled":false,"color":"black","fill":"white","size":22,"strokeWidth":1.1,"opacity":1}},
   {"data":{"name":"leg"},"transform":[{"filter":"datum.s=='Shibushi' && datum.k=='To'"}],"mark":{"type":"point","filled":true,"color":"black","size":22,"opacity":1}},
   {"data":{"name":"leg"},"transform":[{"filter":"datum.s=='Shibushi' && datum.k=='Ho'"}],"mark":{"type":"point","filled":false,"color":"black","size":16,"strokeWidth":1.1,"opacity":1}},
   {"data":{"name":"brace"},"transform":[{"filter":"datum.s=='Shibushi'"}],"mark":{"type":"text","fontSize":24,"fontStyle":"normal","font":"DejaVu Sans"},"encoding":{"text":{"value":"{"}}},
   {"data":{"name":"ann"},"transform":[{"filter":"datum.s=='Shibushi'"}],"mark":{"type":"text"},"encoding":{"text":{"field":"t"}}}
  ]},
 {"width":298,"height":215,
  "encoding":{"x":{"field":"x","type":"quantitative","scale":{"domain":[12,96],"nice":false,"zero":false},"axis":{"title":null,"values":[12,24,36,48,60,72,84,96],"labelExpr":"datum.value % 24 == 12 ? ['12', floor(datum.value/24) < 4 ? 'Aug.' + (28 + floor(datum.value/24)) : 'Sept.' + (floor(datum.value/24) - 3)] : ['0', '']"}},
              "y":{"field":"y","type":"quantitative","scale":{"domain":[0,15],"nice":false},"axis":{"values":[0,5,10,15],"title":"H1/3 m , T1/3 s"}}},
  "layer":[
   {"data":{"name":"d"},"transform":[{"filter":"datum.s=='Kamikawaguchi' && (datum.k=='Tm' || datum.k=='Hm')"}],"mark":{"type":"line","color":"black","strokeWidth":1.4,"clip":true},"encoding":{"detail":{"field":"k"}}},
   {"data":{"name":"d"},"transform":[{"filter":"datum.s=='Kamikawaguchi' && datum.k=='To'"}],"mark":{"type":"point","filled":true,"color":"black","size":30,"opacity":1}},
   {"data":{"name":"d"},"transform":[{"filter":"datum.s=='Kamikawaguchi' && datum.k=='Ho'"}],"mark":{"type":"point","filled":false,"color":"black","fill":"white","size":22,"strokeWidth":1.1,"opacity":1}},
   {"data":{"name":"leg"},"transform":[{"filter":"datum.s=='Kamikawaguchi' && datum.k=='To'"}],"mark":{"type":"point","filled":true,"color":"black","size":22,"opacity":1}},
   {"data":{"name":"leg"},"transform":[{"filter":"datum.s=='Kamikawaguchi' && datum.k=='Ho'"}],"mark":{"type":"point","filled":false,"color":"black","size":16,"strokeWidth":1.1,"opacity":1}},
   {"data":{"name":"brace"},"transform":[{"filter":"datum.s=='Kamikawaguchi'"}],"mark":{"type":"text","fontSize":24,"fontStyle":"normal","font":"DejaVu Sans"},"encoding":{"text":{"value":"{"}}},
   {"data":{"name":"ann"},"transform":[{"filter":"datum.s=='Kamikawaguchi'"}],"mark":{"type":"text"},"encoding":{"text":{"field":"t"}}}
  ]},
 {"width":305,"height":215,
  "encoding":{"x":{"field":"x","type":"quantitative","scale":{"domain":[12,96],"nice":false,"zero":false},"axis":{"title":null,"values":[12,24,36,48,60,72,84,96],"labelExpr":"datum.value % 24 == 12 ? ['12', floor(datum.value/24) < 4 ? 'Aug.' + (28 + floor(datum.value/24)) : 'Sept.' + (floor(datum.value/24) - 3)] : ['0', '']"}},
              "y":{"field":"y","type":"quantitative","scale":{"domain":[0,15],"nice":false},"axis":{"values":[0,5,10,15],"title":"H1/3 m , T1/3 s"}}},
  "layer":[
   {"data":{"name":"d"},"transform":[{"filter":"datum.s=='Sakihama' && (datum.k=='Tm' || datum.k=='Hm')"}],"mark":{"type":"line","color":"black","strokeWidth":1.4,"clip":true},"encoding":{"detail":{"field":"k"}}},
   {"data":{"name":"d"},"transform":[{"filter":"datum.s=='Sakihama' && datum.k=='To'"}],"mark":{"type":"point","filled":true,"color":"black","size":30,"opacity":1}},
   {"data":{"name":"d"},"transform":[{"filter":"datum.s=='Sakihama' && datum.k=='Ho'"}],"mark":{"type":"point","filled":false,"color":"black","fill":"white","size":22,"strokeWidth":1.1,"opacity":1}},
   {"data":{"name":"leg"},"transform":[{"filter":"datum.s=='Sakihama' && datum.k=='To'"}],"mark":{"type":"point","filled":true,"color":"black","size":22,"opacity":1}},
   {"data":{"name":"leg"},"transform":[{"filter":"datum.s=='Sakihama' && datum.k=='Ho'"}],"mark":{"type":"point","filled":false,"color":"black","size":16,"strokeWidth":1.1,"opacity":1}},
   {"data":{"name":"brace"},"transform":[{"filter":"datum.s=='Sakihama'"}],"mark":{"type":"text","fontSize":24,"fontStyle":"normal","font":"DejaVu Sans"},"encoding":{"text":{"value":"{"}}},
   {"data":{"name":"ann"},"transform":[{"filter":"datum.s=='Sakihama'"}],"mark":{"type":"text"},"encoding":{"text":{"field":"t"}}}
  ]}
],"spacing":23}
],
"spacing":6
}
